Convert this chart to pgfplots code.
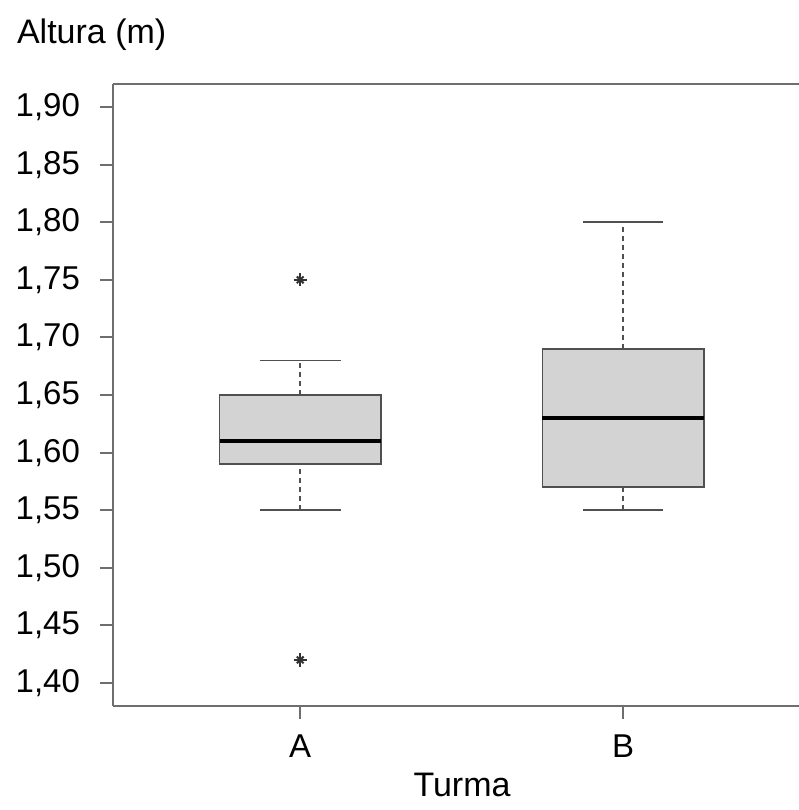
\documentclass[border=0pt]{standalone}
\usepackage{pgfplots}
\pgfplotsset{compat=1.18}
\usepackage{fontspec}
\setmainfont{Liberation Sans}
\definecolor{boxfill}{HTML}{D3D3D3}
\definecolor{boxline}{HTML}{505050}
\definecolor{axline}{HTML}{6E6E6E}
\definecolor{outl}{HTML}{333333}
\begin{document}
\begin{tikzpicture}[font=\fontsize{17}{20}\selectfont]
\useasboundingbox (-56.5pt,-52pt) rectangle (343pt,353pt);
\begin{axis}[
  scale only axis, width=343pt, height=311pt,
  at={(0pt,0pt)}, anchor=south west,
  xmin=0.42, xmax=2.545, ymin=1.38, ymax=1.92,
  axis x line=box, axis y line=left,
  axis line style={-, axline, line width=1pt},
  xtick pos=bottom, ytick pos=left,
  tick align=outside, major tick length=6.5pt,
  tick style={axline, line width=1pt},
  xtick={1,2}, xticklabels={A,B},
  ytick={1.40,1.45,1.50,1.55,1.60,1.65,1.70,1.75,1.80,1.85,1.90},
  /pgf/number format/.cd, fixed, fixed zerofill, precision=2, use comma, assume math mode=true,
  /pgfplots/.cd,
  tick label style={font=\fontsize{16.5}{20}\selectfont},
  every y tick label/.append style={anchor=east, xshift=-6.5pt},
  xticklabel shift=4.5pt,
  clip=false,
]
% Box A
\addplot[fill=boxfill, draw=boxline, line width=0.75pt] coordinates {(0.75,1.59) (1.25,1.59) (1.25,1.65) (0.75,1.65)} -- cycle;
\addplot[boxline, line width=0.75pt, dash pattern=on 2.5pt off 2pt] coordinates {(1,1.55) (1,1.59)};
\addplot[boxline, line width=0.75pt, dash pattern=on 2.5pt off 2pt] coordinates {(1,1.65) (1,1.68)};
\addplot[boxline, line width=0.75pt] coordinates {(0.875,1.55) (1.125,1.55)};
\addplot[boxline, line width=0.75pt] coordinates {(0.875,1.68) (1.125,1.68)};
\addplot[black, line width=2pt] coordinates {(0.75,1.61) (1.25,1.61)};
\addplot[only marks, mark=+, mark size=3.3pt, color=outl, mark options={line width=1pt}] coordinates {(1,1.75) (1,1.42)};
\addplot[only marks, mark=x, mark size=2.4pt, color=outl, mark options={line width=1pt}] coordinates {(1,1.75) (1,1.42)};
% Box B
\addplot[fill=boxfill, draw=boxline, line width=0.75pt] coordinates {(1.75,1.57) (2.25,1.57) (2.25,1.69) (1.75,1.69)} -- cycle;
\addplot[boxline, line width=0.75pt, dash pattern=on 2.5pt off 2pt] coordinates {(2,1.55) (2,1.57)};
\addplot[boxline, line width=0.75pt, dash pattern=on 2.5pt off 2pt] coordinates {(2,1.69) (2,1.80)};
\addplot[boxline, line width=0.75pt] coordinates {(1.875,1.55) (2.125,1.55)};
\addplot[boxline, line width=0.75pt] coordinates {(1.875,1.80) (2.125,1.80)};
\addplot[black, line width=2pt] coordinates {(1.75,1.63) (2.25,1.63)};
\end{axis}
\node[anchor=west] at (-51.5pt,335.5pt) {Altura (m)};
\node at (174.5pt,-39.5pt) {Turma};
\end{tikzpicture}
\end{document}
